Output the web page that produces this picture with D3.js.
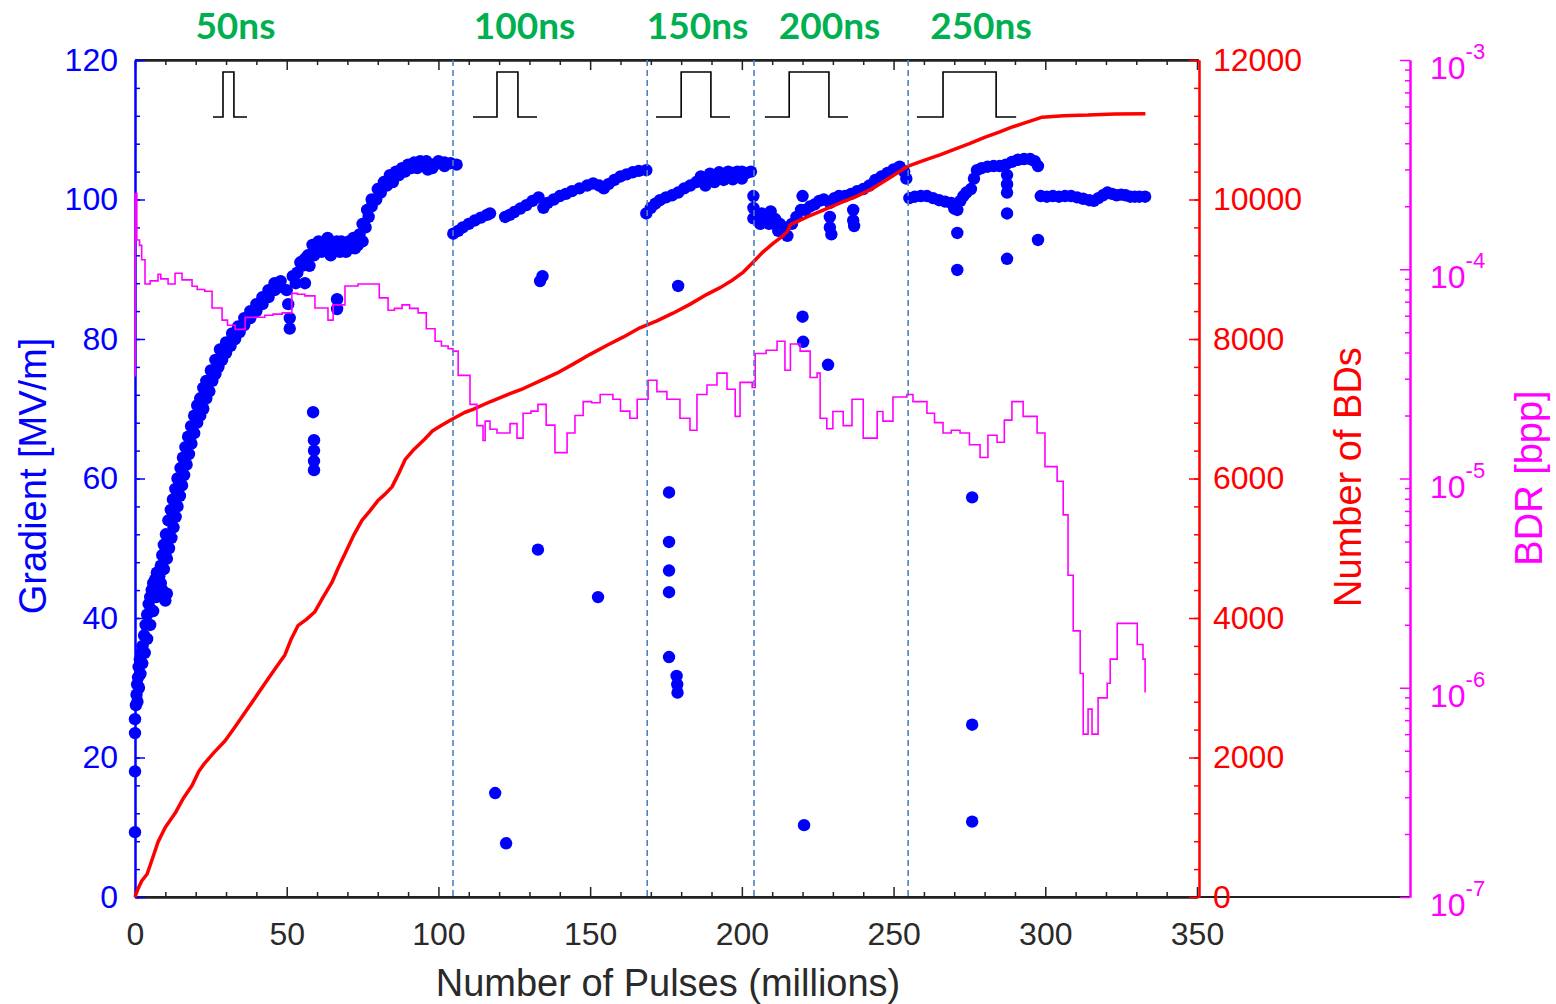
<!DOCTYPE html>
<html>
<head>
<meta charset="utf-8">
<script src="https://cdn.jsdelivr.net/npm/d3@7"></script>
<style>
  body { margin: 0; background: #fff; }
  svg { display: block; font-family: "Liberation Sans", Arial, sans-serif; }
</style>
</head>
<body>
<div id="chart"></div>
<script>
// gradient [MV/m] vs pulses (millions), one dot per measurement
const gradientPoints = [
  // 50 ns
  [0,9.3],[0,18],[0,23.5],[0,25.5],[0.3,27.5],[0.5,29],[0.7,30.5],[1,31.5],[1.2,33],[1.6,34],[2,35],[2.5,36],
  [3,37.5],[3.5,39],[4,40.5],[4.5,42],[5,43],[5.5,44],[6,45],[6.6,45.5],[7.2,46.5],[8,46],[8.5,45],[9,44],
  [10,42.5],[10.5,43.5],[9.5,47],[10.5,48.5],[11.2,50],[12,51.5],[12.7,53],[13.4,54.5],[14,56],[14.8,57.5],
  [15.5,59],[16.2,60.5],[17,62],[17.8,63.5],[18.6,65],[19.5,66.5],[20.5,68],[21.5,69],[22.5,70],[23.5,71.5],
  [24.5,72.5],[25.5,74],[26.5,75],[27.5,76],[28.7,77],[30,78],[31.5,79],[33,80],[34.5,81],[36,82],[38,83],
  [40,84],[42,85],[44,86],[46,87],[48,87.5],[50,87],[50.5,85],[51,83],[51,81.5],[52,89],[53.5,89.5],[55,90.5],
  [56,88],[57,92],[58.5,93.5],[60,93],[61.5,92.5],[63,93],[64.5,92],[66,93.5],[67.5,92.5],[69,93.5],[70.5,94],
  [72,94.5],[73.5,93.5],[75,94],[76,96],[77,97.5],[78,99],[79.5,100],[81,101],[83,102],[85,102.5],[87,103.5],
  [89,104],[91,104.5],[93,104.5],[95,105],[96.5,104.3],[98,105],[100,105.2],[102,105.3],[104,105.2],[106,105],
  [0.8,28],[1.3,30],[1.8,32],[2.4,33.5],[3.2,35],[4,37],[5,39],[6,41],[7,43],[7.5,44],[8.5,47.5],[9,49],
  [9.5,50.5],[10.2,52],[11,54],[11.8,55.5],[12.5,57],[13.3,58.5],[14,60],[15,61.5],[15.8,63],[16.6,64.5],
  [17.5,66],[18.5,67.5],[19.5,69],[20.5,70.5],[21.5,71.5],[22.5,73],[23.5,74],[25,75.5],[26.5,77],[28,78.5],
  [30,79.5],[32,80.8],[34,81.8],[36,83],[38,84],[40,85],[42,86],[44,87],[46,88],[48,88.3],
  [53,88],[54.5,91],[56,91.5],[57.5,90.5],[59,92],[60.5,94],[62,93.5],[63.5,94.5],[65,93],[66.5,94],[68,94],
  [69.5,92.5],[71,93],[72.5,93],[74,95],[75,96.5],[76.5,98.5],[78,100],[80,101.5],[82,102.5],[84,103.5],
  [86,104],[88,104.5],[90,105],[92,105.3],[94,105.5],[96,105.5],[98,104.5],[100,105.5],[102,104.8],
  [58.7,69.5],[59,65.5],[59,64],[59,62.5],[59,61.2],[66.6,85.7],[66.6,84.3],
  // 100 ns
  [104.9,95.1],[106.5,95.5],[108,96],[110,96.5],[112,97],[114,97.4],[116,97.8],[117,98],[122,97.5],[123.5,97.8],
  [125,98.2],[127,98.7],[129,99.2],[131,99.8],[133,100.3],[134.6,98.8],[136,99.5],[138,100],[140,100.5],
  [142,100.8],[144,101.2],[146.5,101.6],[149,102],[151,102.3],[153,102],[154.5,101.6],[156,102.2],[158,102.8],
  [160,103.3],[162,103.6],[164,103.9],[166,104.1],[168.5,104.2],
  [133.5,88.3],[134.3,89],[132.8,49.8],[152.6,43],[118.7,14.9],[122.3,7.7],
  // 150 ns
  [168.5,98],[170,98.8],[171.5,99.4],[173,99.9],[175,100.3],[177,100.6],[179,101],[181,101.6],[183,102],
  [185,102.5],[186.5,103.3],[188,103],[189.5,103.7],[191,103.2],[192.5,103.9],[194,103.5],[195.5,104],
  [197,103.8],[198.5,104],[200,104],[201.5,103.8],[203,104],[188,102],[191,102.5],[194,102.8],[197,102.9],[200,103],
  [179,87.6],[176,58],[176,50.9],[176,46.8],[176,43.7],[176,34.4],[178.5,31.7],[178.7,30.5],[178.8,29.3],
  // 200 ns
  [203.8,100.5],[203.8,98.8],[203.8,97.3],[205,97.5],[206.5,98],[208,97.5],[209.5,98.3],[211,97.2],[212.5,96.5],
  [214,96],[215,94.8],[216.5,96.5],[218,97.5],[219.5,98.5],[220,100.5],[221,98.5],[222.5,99],[224,99.3],
  [225.5,99.8],[227,100],[229,99.5],[229,97.5],[229,96],[229.5,95],[230.5,100.2],[232,100.5],[234,100.5],
  [236,100.8],[236.7,98.5],[236.7,97],[237,96.2],[238,101.2],[240,101.5],[242,102],[244,102.8],[246,103.3],
  [248,103.8],[250,104.3],[252,104.7],[253.5,104],[254.2,103],[206,96.5],[209,96.5],[212,95.5],
  [220,83.2],[220.2,79.6],[228.4,76.3],[220.5,10.3],
  // 250 ns
  [255.2,100.2],[257,100.4],[259,100.5],[261,100.5],[263,100.2],[265,99.9],[267,99.7],[269,99.5],[270,98.7],
  [271,98.5],[272,99.8],[273,100.5],[274,101],[275.5,101.5],[276.5,103],[277.5,104.2],[279,104.5],[281,104.7],
  [283,104.8],[285,104.8],[287,105],[287.4,103.5],[287.4,102.2],[287.4,101],[289,105.4],[291,105.7],[293,105.8],
  [295,105.8],[296.5,105.5],[297.6,104.8],
  [271,95.2],[271,89.9],[287.4,98],[287.4,91.5],[297.6,94.2],[275.9,57.3],[275.9,24.7],[275.9,10.8],
  // after
  [298.5,100.5],[300.5,100.4],[302.5,100.5],[304.5,100.4],[306.5,100.5],[308.5,100.5],[310.5,100.3],
  [312.5,100.1],[314.5,99.9],[316,99.8],[317.5,100.2],[319,100.6],[320.5,101],[322,100.8],[323.5,100.6],
  [325,100.7],[326.5,100.6],[328,100.4],[329.5,100.4],[331,100.4],[332.9,100.4]
];

// cumulative number of breakdowns
const bdCount = [
  [0,0],[1,120],[2.2,230],[4,330],[5.5,520],[7.6,790],[10,1000],[13.2,1200],[16,1420],[18.8,1600],[21,1800],
  [23,1920],[26,2070],[29.7,2240],[33,2440],[36.3,2650],[39.5,2850],[42.8,3060],[46,3260],[49.4,3470],
  [51.5,3700],[53.7,3890],[56.5,3980],[59.3,4090],[62,4300],[64.9,4510],[67,4720],[69.2,4920],[72,5180],
  [74.8,5400],[77.5,5540],[80,5680],[82.5,5780],[84.7,5880],[87,6080],[89,6270],[92,6420],[95.6,6570],
  [98,6680],[100.5,6750],[104.5,6850],[108.8,6950],[111.4,6990],[117,7100],[122.6,7200],[128,7290],
  [133.5,7400],[139,7510],[144.4,7640],[150,7780],[155.6,7910],[161,8030],[166.4,8160],[172,8260],
  [177.3,8370],[183,8500],[188.5,8640],[193,8740],[197.1,8850],[200.5,8960],[203.7,9100],[207,9250],
  [210.3,9370],[213,9460],[215,9540],[216,9640],[218.5,9690],[221.5,9750],[227,9850],[232.4,9950],
  [238,10050],[243.2,10160],[249,10320],[254.4,10470],[260,10560],[265.3,10640],[270,10720],[275,10800],
  [280,10890],[285,10970],[288.5,11030],[292,11080],[295.5,11130],[299,11180],[306,11200],[314,11210],
  [323,11225],[333,11230]
];

// breakdown rate [bpp], log scale
const bdr = [
  [0,3.1e-5],[0.1,2.3e-4],[0.6,1.38e-4],[1.5,1.3e-4],[2.2,1.11e-4],[3.3,8.5e-5],[5,8.8e-5],[7.6,9.46e-5],
  [8.5,9.0e-5],[10.9,8.5e-5],[13.2,9.57e-5],[15.5,8.9e-5],[18.8,8.3e-5],[20.5,8.0e-5],[23,7.85e-5],
  [25.4,6.53e-5],[28.7,5.71e-5],[30.5,5.4e-5],[33,5.16e-5],[36.3,5.89e-5],[39.5,5.9e-5],[42.8,6.03e-5],
  [45.5,6.1e-5],[48.5,6.19e-5],[51.7,7.67e-5],[53.5,7.6e-5],[56,7.46e-5],[59.3,6.53e-5],
  [63.6,5.71e-5],[65.3,6.76e-5],[68.2,6.76e-5],[69.2,8.32e-5],[73.5,8.5e-5],[75.5,8.5e-5],[78,8.5e-5],
  [80.5,7.3e-5],[83.4,6.37e-5],[85.5,6.5e-5],[88,6.76e-5],[90.5,6.5e-5],[93.3,6.19e-5],[96,5.2e-5],
  [98.9,4.53e-5],[101,4.3e-5],[103.2,4.17e-5],[104.8,4.06e-5],[106.5,3.11e-5],[110.4,2.26e-5],
  [112.7,1.79e-5],[114.7,1.52e-5],[115.4,1.88e-5],[117,1.72e-5],[119.3,1.65e-5],[123.6,1.83e-5],[125.9,1.56e-5],
  [127.9,2.05e-5],[130.5,2.1e-5],[132.8,2.26e-5],[135.5,1.8e-5],[138.4,1.33e-5],[142.4,1.65e-5],[145,2.0e-5],
  [147.7,2.33e-5],[150.5,2.3e-5],[153.3,2.52e-5],[157.5,2.39e-5],[160,2.1e-5],[163.1,1.94e-5],[165.5,2.39e-5],
  [169.1,2.95e-5],[172,2.6e-5],[175.3,2.39e-5],[179.6,1.94e-5],[182.9,1.70e-5],[185.2,2.52e-5],[188.5,2.8e-5],
  [191.8,3.19e-5],[195.1,2.67e-5],[197.8,1.98e-5],[199.4,2.88e-5],[203.4,2.72e-5],[204.4,3.96e-5],
  [208,4.1e-5],[211.6,4.53e-5],[214.2,3.29e-5],[216,4.39e-5],[219.2,4.06e-5],
  [222.5,3.04e-5],[224.8,3.19e-5],[225.8,1.94e-5],[228,1.73e-5],[230,2.09e-5],[233.4,1.79e-5],[236.3,2.39e-5],
  [240,1.56e-5],[244.6,2.09e-5],[246.5,1.88e-5],[249.8,2.45e-5],[254.4,2.52e-5],[256.4,2.33e-5],[261,2.05e-5],
  [263.5,1.85e-5],[266.3,1.65e-5],[269,1.7e-5],[271.9,1.65e-5],[275,1.45e-5],[278.5,1.26e-5],[281.1,1.61e-5],
  [284.1,1.49e-5],[286.5,1.9e-5],[289,2.33e-5],[292.7,1.98e-5],[297.3,1.65e-5],[299.9,1.14e-5],
  [303.9,9.7e-6],[305.9,6.7e-6],[307.5,3.45e-6],
  [309.2,1.87e-6],[311.5,1.17e-6],[312.5,6.0e-7],[314.1,7.9e-7],[315.4,6.0e-7],[317.4,8.95e-7],
  [320.4,1.05e-6],[321.4,1.37e-6],[323.7,2.03e-6],[327,2.03e-6],[330.3,1.61e-6],[332.2,1.37e-6],[332.9,9.5e-7]
];

// pulse length sections
const pulseLabels = ["50ns", "100ns", "150ns", "200ns", "250ns"];
const labelCenters = [33.1, 128.4, 185.4, 228.9, 278.8];
const sectionBounds = [104.8, 168.8, 204, 254.8];
const pulseStart = [25.7, 111.4, 171.7, 207.6, 257.7];
const pulseRise = [29, 119.3, 180, 215.6, 266.3];
const pulseFall = [32.6, 126.2, 189.8, 228.7, 283.8];
const pulseEnd = [36.9, 132.5, 196.1, 235, 290.4];

const xTicks = [0, 50, 100, 150, 200, 250, 300, 350];
const gradTicks = [0, 20, 40, 60, 80, 100, 120];
const bdTicks = [0, 2000, 4000, 6000, 8000, 10000, 12000];
const bdrExponents = [-7, -6, -5, -4, -3];

const W = 1556, H = 1004;
const m = { left: 135, right: 1199, top: 60, bottom: 897 };
const bdrAxisX = 1410;

const svg = d3.select("#chart").append("svg")
  .attr("width", W).attr("height", H);

const x = d3.scaleLinear().domain([0, 350]).range([m.left, 1197]);
const yG = d3.scaleLinear().domain([0, 120]).range([m.bottom, m.top]);
const yBD = d3.scaleLinear().domain([0, 12000]).range([m.bottom, m.top]);
const yR = d3.scaleLog().domain([1e-7, 1e-3]).range([m.bottom, m.top]);

const tickFont = 32;

function styleAxis(g, color, textColor) {
  g.select(".domain").attr("stroke", color).attr("stroke-width", 2);
  g.selectAll(".tick line").attr("stroke", color).attr("stroke-width", 1.5);
  g.selectAll(".tick text").attr("fill", textColor || color)
    .style("font-size", tickFont + "px").style("font-family", '"Liberation Sans", Arial, sans-serif');
}

// bottom frame line runs out to the BDR axis
svg.append("line")
  .attr("x1", m.left).attr("x2", bdrAxisX)
  .attr("y1", m.bottom).attr("y2", m.bottom)
  .attr("stroke", "#222").attr("stroke-width", 2);
svg.append("line")
  .attr("x1", m.left).attr("x2", m.right)
  .attr("y1", m.top).attr("y2", m.top)
  .attr("stroke", "#222").attr("stroke-width", 2);

// x axis (bottom, ticks inside)
const xMinor = d3.range(0, 351, 10).filter(v => v % 50 !== 0);
svg.append("g").attr("transform", `translate(0,${m.bottom})`)
  .call(d3.axisBottom(x).tickValues(xMinor).tickSize(-5).tickSizeOuter(0).tickFormat(""))
  .call(g => styleAxis(g, "#222"));
svg.append("g").attr("transform", `translate(0,${m.bottom})`)
  .call(d3.axisBottom(x).tickValues(xTicks).tickSize(-10).tickSizeOuter(0).tickPadding(25))
  .call(g => styleAxis(g, "#222", "#2a2a2a"));

// top frame ticks
svg.append("g").attr("transform", `translate(0,${m.top})`)
  .call(d3.axisTop(x).tickValues(xMinor).tickSize(-5).tickSizeOuter(0).tickFormat(""))
  .call(g => styleAxis(g, "#222"));
svg.append("g").attr("transform", `translate(0,${m.top})`)
  .call(d3.axisTop(x).tickValues(xTicks).tickSize(-10).tickSizeOuter(0).tickFormat(""))
  .call(g => styleAxis(g, "#222"));

// left gradient axis
svg.append("g").attr("transform", `translate(${m.left},0)`)
  .call(d3.axisLeft(yG).tickValues(d3.range(0, 121, 4)).tickSize(-5).tickSizeOuter(0).tickFormat(""))
  .call(g => styleAxis(g, "#0000ff"));
svg.append("g").attr("transform", `translate(${m.left},0)`)
  .call(d3.axisLeft(yG).tickValues(gradTicks).tickSize(-10).tickSizeOuter(0).tickPadding(17))
  .call(g => styleAxis(g, "#0000ff"));

// right BD count axis
svg.append("g").attr("transform", `translate(${m.right},0)`)
  .call(d3.axisRight(yBD).tickValues(d3.range(0, 12001, 400)).tickSize(-5).tickSizeOuter(0).tickFormat(""))
  .call(g => styleAxis(g, "#ff0000"));
svg.append("g").attr("transform", `translate(${m.right},0)`)
  .call(d3.axisRight(yBD).tickValues(bdTicks).tickSize(-10).tickSizeOuter(0).tickPadding(14).tickFormat(d3.format("d")))
  .call(g => styleAxis(g, "#ff0000"));

// BDR log axis
const bdrMinor = [];
bdrExponents.slice(0, -1).forEach(e => {
  for (let k = 2; k <= 9; k++) bdrMinor.push(k * Math.pow(10, e));
});
svg.append("g").attr("transform", `translate(${bdrAxisX},0)`)
  .call(d3.axisRight(yR).tickValues(bdrMinor).tickSize(-5).tickSizeOuter(0).tickFormat(""))
  .call(g => styleAxis(g, "#ff00ff"));
svg.append("g").attr("transform", `translate(${bdrAxisX},0)`)
  .call(d3.axisRight(yR).tickValues(bdrExponents.map(e => Math.pow(10, e))).tickSize(-10).tickSizeOuter(0).tickFormat(""))
  .call(g => styleAxis(g, "#ff00ff"));
const bdrLabels = svg.append("g").selectAll("text")
  .data(bdrExponents).join("text")
  .attr("x", bdrAxisX + 20)
  .attr("y", e => yR(Math.pow(10, e)) + 19)
  .attr("fill", "#ff00ff")
  .style("font-size", tickFont + "px");
bdrLabels.append("tspan").text("10");
bdrLabels.append("tspan").attr("dy", -20).style("font-size", "22px").text(e => e);

// axis titles
svg.append("text")
  .attr("x", 668).attr("y", 996)
  .attr("text-anchor", "middle").attr("fill", "#2a2a2a")
  .style("font-size", "38px")
  .text("Number of Pulses (millions)");
svg.append("text")
  .attr("transform", "translate(46,476) rotate(-90)")
  .attr("text-anchor", "middle").attr("fill", "#0000ff")
  .style("font-size", "38px")
  .text("Gradient [MV/m]");
svg.append("text")
  .attr("transform", "translate(1361,477) rotate(-90)")
  .attr("text-anchor", "middle").attr("fill", "#ff0000")
  .style("font-size", "38px")
  .text("Number of BDs");
svg.append("text")
  .attr("transform", "translate(1542,478) rotate(-90)")
  .attr("text-anchor", "middle").attr("fill", "#ff00ff")
  .style("font-size", "38px")
  .text("BDR [bpp]");

// gradient dots
svg.append("g").selectAll("circle")
  .data(gradientPoints).join("circle")
  .attr("cx", d => x(d[0]))
  .attr("cy", d => yG(d[1]))
  .attr("r", 6.2)
  .attr("fill", "#0000ff");

// BD count line
svg.append("path")
  .datum(bdCount)
  .attr("fill", "none")
  .attr("stroke", "#ff0000")
  .attr("stroke-width", 3.5)
  .attr("stroke-linejoin", "bevel")
  .attr("d", d3.line().x(d => x(d[0])).y(d => yBD(d[1])));

// BDR line, drawn as steps like the windowed rate it is
svg.append("path")
  .datum(bdr)
  .attr("fill", "none")
  .attr("stroke", "#ff00ff")
  .attr("stroke-width", 1.6)
  .attr("d", d3.line().x(d => x(d[0])).y(d => yR(d[1])).curve(d3.curveStepAfter));

// section separators
svg.append("g").selectAll("line")
  .data(sectionBounds).join("line")
  .attr("x1", d => x(d)).attr("x2", d => x(d))
  .attr("y1", m.top).attr("y2", m.bottom)
  .attr("stroke", "#4f81bd")
  .attr("stroke-width", 1.6)
  .attr("stroke-dasharray", "6,4");

// pulse shape sketches
const pulseTop = m.top + 12, pulseBase = m.top + 57;
svg.append("g").selectAll("path")
  .data(pulseLabels.map((l, i) => i)).join("path")
  .attr("fill", "none")
  .attr("stroke", "#000")
  .attr("stroke-width", 1.6)
  .attr("d", i => `M${x(pulseStart[i])},${pulseBase}H${x(pulseRise[i])}V${pulseTop}H${x(pulseFall[i])}V${pulseBase}H${x(pulseEnd[i])}`);

svg.append("g").selectAll("text")
  .data(pulseLabels).join("text")
  .attr("x", (d, i) => x(labelCenters[i]))
  .attr("y", 39)
  .attr("text-anchor", "middle")
  .attr("fill", "#00b050")
  .style("font-family", "Lato, 'Open Sans', sans-serif")
  .style("font-weight", "bold")
  .style("font-size", "37px")
  .text(d => d);
</script>
</body>
</html>
